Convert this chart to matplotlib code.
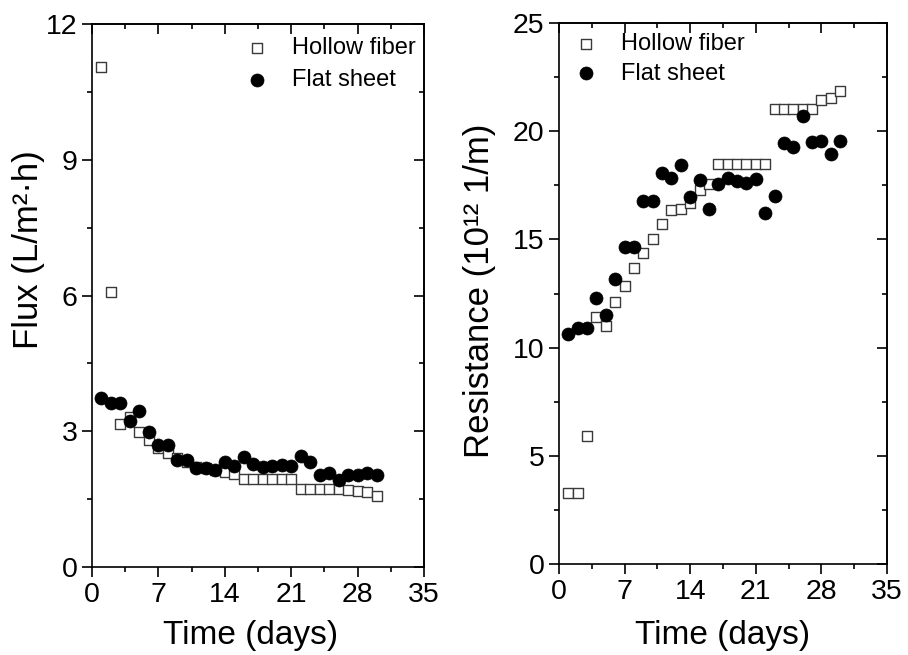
import matplotlib
matplotlib.use("Agg")
import matplotlib.pyplot as plt
from matplotlib.ticker import MultipleLocator, NullFormatter

plt.rcParams['font.family'] = ['Liberation Sans', 'DejaVu Sans']

days = list(range(1, 31))

flux_hollow = [11.06, 6.08, 3.16, 3.31, 2.99, 2.81, 2.62, 2.51, 2.40, 2.31,
               2.22, 2.18, 2.14, 2.09, 2.05, 1.95, 1.95, 1.95, 1.95, 1.95,
               1.95, 1.72, 1.72, 1.72, 1.72, 1.72, 1.70, 1.68, 1.65, 1.58]
flux_flat = [3.73, 3.63, 3.63, 3.23, 3.44, 2.99, 2.70, 2.70, 2.36, 2.36,
             2.18, 2.19, 2.14, 2.33, 2.23, 2.42, 2.27, 2.22, 2.23, 2.25,
             2.23, 2.46, 2.33, 2.03, 2.07, 1.92, 2.04, 2.04, 2.08, 2.03]

res_hollow = [3.26, 3.26, 5.91, 11.43, 11.00, 12.09, 12.86, 13.70, 14.36, 15.01,
              15.73, 16.36, 16.39, 16.70, 17.27, 17.54, 18.47, 18.47, 18.47, 18.47,
              18.47, 18.47, 21.03, 21.03, 21.03, 21.03, 21.03, 21.43, 21.54, 21.88]
res_flat = [10.63, 10.91, 10.91, 12.27, 11.51, 13.19, 14.65, 14.65, 16.77, 16.77,
            18.08, 17.85, 18.43, 16.97, 17.76, 16.42, 17.54, 17.85, 17.70, 17.60,
            17.79, 16.22, 17.02, 19.45, 19.26, 20.72, 19.49, 19.57, 18.95, 19.54]

labels = ["Hollow fiber", "Flat sheet"]

W, H = 908, 655
fig = plt.figure(figsize=(W / 100, H / 100), dpi=100)

def px_axes(l, t, r, b):
    return fig.add_axes([l / W, 1 - b / H, (r - l) / W, (b - t) / H])

ax1 = px_axes(92, 24, 424, 567)
ax2 = px_axes(559, 23, 887, 564)

SQ = 60
CI = 88

def style(ax, ymax, ymajor, yminor):
    ax.set_xlim(0, 35)
    ax.set_ylim(0, ymax)
    ax.xaxis.set_major_locator(MultipleLocator(7))
    ax.xaxis.set_minor_locator(MultipleLocator(3.5))
    ax.yaxis.set_major_locator(MultipleLocator(ymajor))
    ax.yaxis.set_minor_locator(MultipleLocator(yminor))
    for s in ax.spines.values():
        s.set_linewidth(1.2)
    ax.tick_params(which='both', direction='out', width=1.2, labelsize=20.5,
                   top=False, right=False, pad=3)
    ax.tick_params(which='major', length=7.5)
    ax.tick_params(which='minor', length=3.8)
    sx = ax.secondary_xaxis('top')
    sx.xaxis.set_major_locator(MultipleLocator(7))
    sx.xaxis.set_minor_locator(MultipleLocator(3.5))
    sx.xaxis.set_major_formatter(NullFormatter())
    sy = ax.secondary_yaxis('right')
    sy.yaxis.set_major_locator(MultipleLocator(ymajor))
    sy.yaxis.set_minor_locator(MultipleLocator(yminor))
    sy.yaxis.set_major_formatter(NullFormatter())
    for s2 in (sx, sy):
        s2.tick_params(which='both', direction='in', width=1.2)
        s2.tick_params(which='major', length=7.5)
        s2.tick_params(which='minor', length=3.8)
        for sp in s2.spines.values():
            sp.set_linewidth(1.2)

# Left panel
ax1.scatter(days, flux_hollow, s=SQ, marker='s', facecolor='white',
            edgecolor='#3a3a3a', linewidth=1.0, label=labels[0], zorder=3)
ax1.scatter(days, flux_flat, s=CI, marker='o', facecolor='black',
            edgecolor='black', linewidth=0.5, label=labels[1], zorder=4)
style(ax1, 12, 3, 1.5)
ax1.set_xlabel("Time (days)", fontsize=24)
ax1.xaxis.set_label_coords((251 - 92) / 332, (567 - 620) / 543)
ax1.set_ylabel("Flux (L/m²·h)", fontsize=25, va='center', ha='center')
ax1.yaxis.set_label_coords((29 - 92) / 332, (567 - 250) / 543)

# Right panel
ax2.scatter(days, res_hollow, s=SQ, marker='s', facecolor='white',
            edgecolor='#3a3a3a', linewidth=1.0, label=labels[0], zorder=3)
ax2.scatter(days, res_flat, s=CI, marker='o', facecolor='black',
            edgecolor='black', linewidth=0.5, label=labels[1], zorder=4)
style(ax2, 25, 5, 2.5)
ax2.set_xlabel("Time (days)", fontsize=24)
ax2.xaxis.set_label_coords(0.5, (564 - 620) / 541)
ax2.set_ylabel("Resistance (10¹² 1/m)", fontsize=25, va='center', ha='center')
ax2.yaxis.set_label_coords((480 - 559) / 328, (564 - 291) / 541)

def add_legend(ax, left_px, top_px, spacing):
    leg = ax.legend(loc='upper left', bbox_to_anchor=(left_px / W, 1 - top_px / H),
                    bbox_transform=fig.transFigure, frameon=False, fontsize=17,
                    handlelength=1.0, handletextpad=0.98, borderpad=0,
                    borderaxespad=0, labelspacing=spacing, scatterpoints=1)
    hs = leg.legend_handles
    hs[0].set_sizes([SQ * 0.9])
    hs[1].set_sizes([CI])
    return leg

add_legend(ax1, 245, 37, 0.42)
add_legend(ax2, 574, 33, 0.32)

fig.savefig("out.png", dpi=100)
